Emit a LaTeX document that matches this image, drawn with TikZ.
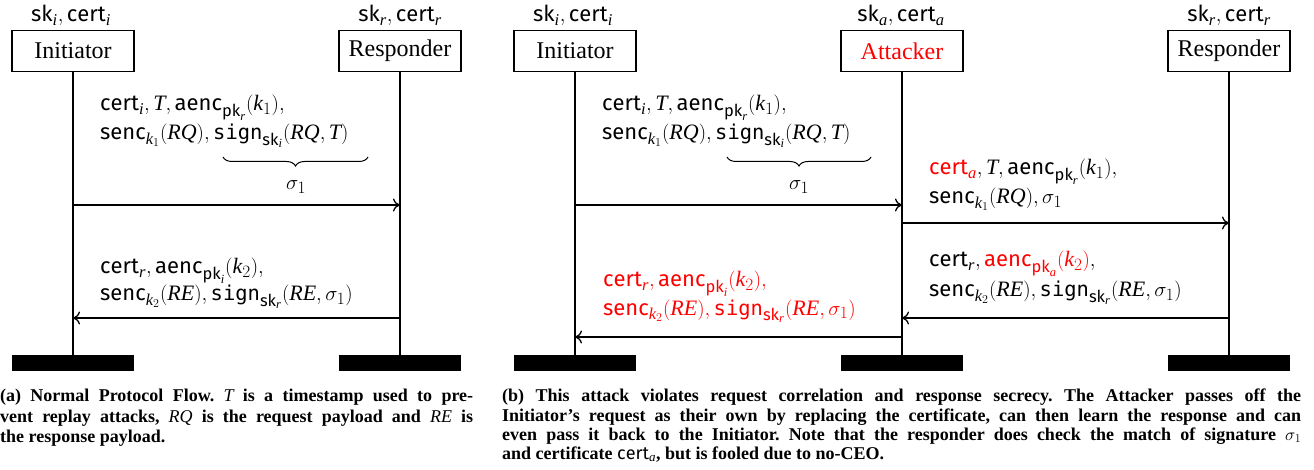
\documentclass[tikz,border=0pt]{standalone}
\usepackage{fontspec}
\setmainfont{Liberation Serif}
\setsansfont{Fira Sans}
\setmonofont{DejaVu Sans Mono}[Scale=0.93]
\usetikzlibrary{decorations.pathreplacing,arrows.meta}
\DeclareMathSizes{22}{22}{16.5}{12.5}
\DeclareMathSizes{18}{18}{13}{10}
\frenchspacing
\definecolor{atk}{RGB}{255,0,0}
\newcommand{\Mcert}{\mathsf{cert}}
\newcommand{\Msk}{\mathsf{sk}}
\newcommand{\Mpk}{\mathsf{pk}}
\newcommand{\Maenc}{\mathsf{aenc}}
\newcommand{\Msenc}{\mathsf{senc}}
\newcommand{\Msign}{\mathtt{sign}}
\newcommand{\Mv}[1]{\mathit{#1}}
\begin{document}
\begin{tikzpicture}[x=1pt,y=-1pt,
  actor/.style={draw,line width=1.3pt,minimum width=122pt,minimum height=41pt,inner sep=0pt,font=\fontsize{24}{28}\selectfont},
  bar/.style={fill=black,minimum width=122pt,minimum height=16pt,inner sep=0pt},
  life/.style={line width=1.5pt},
  msg/.style={line width=1.3pt,-{To[length=7pt,width=13pt]}},
  mtext/.style={anchor=base west,inner sep=0pt,font=\fontsize{22}{26}\selectfont},
  ktext/.style={anchor=base,inner sep=0pt,font=\fontsize{22}{26}\selectfont},
  brc/.style={line width=1pt,decorate,decoration={brace,mirror,amplitude=9pt}},
  capt/.style={anchor=base west,inner sep=0pt,font=\fontsize{18}{20}\selectfont\bfseries}]
\useasboundingbox (0,0) rectangle (1314,470);
% ---------------- left diagram ----------------
\node[actor] (I1) at (73,51) {Initiator};
\node[actor] (R1) at (400,51) {Responder};
\node[ktext] (kI1) at (71,22) {$\Msk_{\Mv{i}}, \Mcert_{\Mv{i}}$};
\node[ktext] (kR1) at (400,22) {$\Msk_{\Mv{r}}, \Mcert_{\Mv{r}}$};
\node[bar] (BI1) at (73,363) {};
\node[bar] (BR1) at (400,363) {};
\draw[life] (I1.south) -- (BI1.north);
\draw[life] (R1.south) -- (BR1.north);
\coordinate (y205) at (0,205);
\coordinate (y223) at (0,223);
\coordinate (y318) at (0,318);
\coordinate (y337) at (0,337);
\draw[msg] (I1.south |- y205) -- (R1.south |- y205);
\draw[msg] (R1.south |- y318) -- (I1.south |- y318);
\node[mtext] (m1a) at (100,111) {$\Mcert_{\Mv{i}}, \Mv{T}, \Maenc_{\Mpk_{\Mv{r}}}(\Mv{k}_1),$};
\node[mtext] (m1b) at (100,140) {$\Msenc_{\Mv{k}_1}(\Mv{RQ}), \Msign_{\Msk_{\Mv{i}}}(\Mv{RQ},\Mv{T})$};
\coordinate (b1s) at (223,157);
\coordinate (b1e) at (368,157);
\draw[brc] (b1s) -- (b1e);
\node[ktext] (s1) at (296,190) {$\sigma_1$};
\node[mtext] (m2a) at (100,274) {$\Mcert_{\Mv{r}}, \Maenc_{\Mpk_{\Mv{i}}}(\Mv{k}_2),$};
\node[mtext] (m2b) at (100,301) {$\Msenc_{\Mv{k}_2}(\Mv{RE}), \Msign_{\Msk_{\Mv{r}}}(\Mv{RE},\sigma_1)$};
% ---------------- right diagram ----------------
\node[actor] (I2) at (575,51) {Initiator};
\node[actor,text=atk] (A2) at (902,51) {Attacker};
\node[actor] (R2) at (1229,51) {Responder};
\node[ktext] (kI2) at (573,22) {$\Msk_{\Mv{i}}, \Mcert_{\Mv{i}}$};
\node[ktext] (kA2) at (901,22) {$\Msk_{\Mv{a}}, \Mcert_{\Mv{a}}$};
\node[ktext] (kR2) at (1229,22) {$\Msk_{\Mv{r}}, \Mcert_{\Mv{r}}$};
\node[bar] (BI2) at (575,363) {};
\node[bar] (BA2) at (902,363) {};
\node[bar] (BR2) at (1229,363) {};
\draw[life] (I2.south) -- (BI2.north);
\draw[life] (A2.south) -- (BA2.north);
\draw[life] (R2.south) -- (BR2.north);
\draw[msg] (I2.south |- y205) -- (A2.south |- y205);
\draw[msg] (A2.south |- y223) -- (R2.south |- y223);
\draw[msg] (R2.south |- y318) -- (A2.south |- y318);
\draw[msg] (A2.south |- y337) -- (I2.south |- y337);
\node[mtext] (n1a) at (602,111) {$\Mcert_{\Mv{i}}, \Mv{T}, \Maenc_{\Mpk_{\Mv{r}}}(\Mv{k}_1),$};
\node[mtext] (n1b) at (602,140) {$\Msenc_{\Mv{k}_1}(\Mv{RQ}), \Msign_{\Msk_{\Mv{i}}}(\Mv{RQ},\Mv{T})$};
\coordinate (b2s) at (727,157);
\coordinate (b2e) at (871,157);
\draw[brc] (b2s) -- (b2e);
\node[ktext] (s2) at (799,190) {$\sigma_1$};
\node[mtext] (n2a) at (929,175) {$\textcolor{atk}{\Mcert_{\Mv{a}}}, \Mv{T}, \Maenc_{\Mpk_{\Mv{r}}}(\Mv{k}_1),$};
\node[mtext] (n2b) at (929,204) {$\Msenc_{\Mv{k}_1}(\Mv{RQ}), \sigma_1$};
\node[mtext] (n3a) at (929,267) {$\Mcert_{\Mv{r}}, \textcolor{atk}{\Maenc_{\Mpk_{\Mv{a}}}(\Mv{k}_2)},$};
\node[mtext] (n3b) at (929,297) {$\Msenc_{\Mv{k}_2}(\Mv{RE}), \Msign_{\Msk_{\Mv{r}}}(\Mv{RE},\sigma_1)$};
\node[mtext,text=atk] (n4a) at (603,287) {$\Mcert_{\Mv{r}}, \Maenc_{\Mpk_{\Mv{i}}}(\Mv{k}_2),$};
\node[mtext,text=atk] (n4b) at (603,315) {$\Msenc_{\Mv{k}_2}(\Mv{RE}), \Msign_{\Msk_{\Mv{r}}}(\Mv{RE},\sigma_1)$};
% ---------------- captions ----------------
\node[capt] (ca1) at (0,401) {\makebox[473pt][s]{(a) Normal Protocol Flow. $\Mv{T}$ is a timestamp used to pre-}};
\node[capt] (ca2) at (0,422) {\makebox[473pt][s]{vent replay attacks, $\Mv{RQ}$ is the request payload and $\Mv{RE}$ is}};
\node[capt] (ca3) at (0,442) {the response payload.};
\node[capt] (cb1) at (502,401) {\makebox[799pt][s]{(b) This attack violates request correlation and response secrecy. The Attacker passes off the}};
\node[capt] (cb2) at (502,421) {\makebox[799pt][s]{Initiator’s request as their own by replacing the certificate, can then learn the response and can}};
\node[capt] (cb3) at (502,440) {\makebox[799pt][s]{even pass it back to the Initiator. Note that the responder does check the match of signature $\sigma_1$}};
\node[capt] (cb4) at (502,459) {and certificate $\Mcert_{\Mv{a}}$, but is fooled due to no-CEO.};
\end{tikzpicture}
\end{document}
